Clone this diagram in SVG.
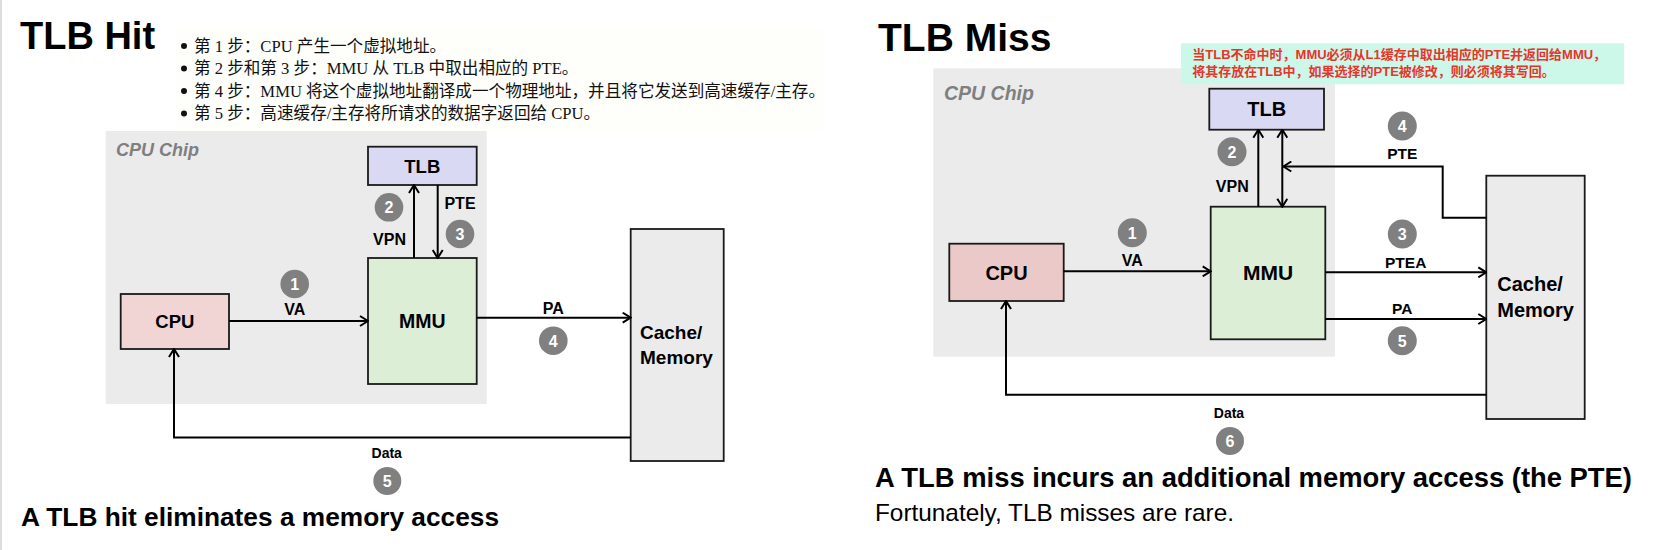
<svg xmlns="http://www.w3.org/2000/svg" width="1664" height="550" viewBox="0 0 1664 550">
<defs>
<marker id="arr" viewBox="0 0 10 12" refX="9" refY="6" markerWidth="10" markerHeight="12" markerUnits="userSpaceOnUse" orient="auto-start-reverse">
<path d="M1,1 L9,6 L1,11" fill="none" stroke="#000" stroke-width="2"/>
</marker>
</defs>
<style>
.chip{fill:#ebebeb}
.box{stroke:#1a1a1a;stroke-width:1.8}
.tlb{fill:#d9d9f3}
.mmu{fill:#dcefd6}
.cpuL{fill:#f1d5d4}
.cpuR{fill:#ecc9c9}
.mem{fill:#ebebeb}
.lbl{font-family:"Liberation Sans",Arial,sans-serif;font-weight:bold;fill:#000;text-anchor:middle}
.lbs{font-family:"Liberation Sans",Arial,sans-serif;font-weight:bold;fill:#000}
.edge{fill:none;stroke:#000;stroke-width:2}
.num circle{fill:#808080}
.num text{font-family:"Liberation Sans",Arial,sans-serif;font-weight:bold;font-size:16px;fill:#fff;text-anchor:middle}
.chipt{font-family:"Liberation Sans",Arial,sans-serif;font-weight:bold;font-style:italic;fill:#7f7f7f}
.title{font-family:"Liberation Sans",Arial,sans-serif;font-weight:bold;fill:#000}
.body{font-family:"Liberation Sans",Arial,sans-serif;fill:#000}
.cn{font-family:"Liberation Serif","Noto Sans CJK SC",serif;font-size:16.6px;fill:#111}
.note{font-family:"Liberation Sans","Noto Sans CJK SC",sans-serif;font-weight:bold;font-size:13px;fill:#e8352b}
</style>
<rect x="0" y="0" width="1664" height="550" fill="#fff"/>
<rect x="0" y="0" width="2" height="550" fill="#dcdcdc"/>

<!-- LEFT PANEL: TLB Hit -->
<g id="left-title">
<text class="title" x="20" y="48.5" font-size="38">TLB Hit</text>
</g>
<g id="left-steps">
<rect x="176" y="28" width="648" height="103" fill="#fefefa"/>
<circle cx="184" cy="46" r="3" fill="#111"/>
<circle cx="184" cy="68.5" r="3" fill="#111"/>
<circle cx="184" cy="91" r="3" fill="#111"/>
<circle cx="184" cy="113.5" r="3" fill="#111"/>
<text class="cn" x="194" y="51.5">第 1 步：CPU 产生一个虚拟地址。</text>
<text class="cn" x="194" y="74">第 2 步和第 3 步：MMU 从 TLB 中取出相应的 PTE。</text>
<text class="cn" x="194" y="96.5">第 4 步：MMU 将这个虚拟地址翻译成一个物理地址，并且将它发送到高速缓存/主存。</text>
<text class="cn" x="194" y="119">第 5 步：高速缓存/主存将所请求的数据字返回给 CPU。</text>
</g>
<g id="left-chip">
<rect class="chip" x="105.7" y="131" width="381" height="273"/>
<text class="chipt" x="116" y="156" font-size="18">CPU Chip</text>
</g>
<g id="left-tlb">
<rect class="box tlb" x="368" y="146.7" width="108.7" height="38.3"/>
<text class="lbl" x="422.3" y="172.7" font-size="18.5">TLB</text>
</g>
<g id="left-mmu">
<rect class="box mmu" x="368" y="258" width="108.7" height="126"/>
<text class="lbl" x="422.3" y="327.5" font-size="19.5">MMU</text>
</g>
<g id="left-cpu">
<rect class="box cpuL" x="120.7" y="294" width="108.3" height="55"/>
<text class="lbl" x="174.8" y="327.5" font-size="18.5">CPU</text>
</g>
<g id="left-mem">
<rect class="box mem" x="630.7" y="229" width="93" height="232"/>
<text class="lbs" x="640" y="339.3" font-size="19">Cache/</text>
<text class="lbs" x="640" y="364.3" font-size="19">Memory</text>
</g>
<g id="left-connectors">
<line class="edge" x1="229" y1="321" x2="368" y2="321" marker-end="url(#arr)"/>
<line class="edge" x1="414" y1="258" x2="414" y2="185" marker-end="url(#arr)"/>
<line class="edge" x1="437.7" y1="185" x2="437.7" y2="258" marker-end="url(#arr)"/>
<line class="edge" x1="476.7" y1="317.7" x2="630.7" y2="317.7" marker-end="url(#arr)"/>
<polyline class="edge" points="630.7,437.5 174,437.5 174,349" marker-end="url(#arr)"/>
<text class="lbl" x="294.7" y="315" font-size="16">VA</text>
<text class="lbl" x="389.5" y="245" font-size="16">VPN</text>
<text class="lbl" x="460" y="209.3" font-size="16">PTE</text>
<text class="lbl" x="553.3" y="314.3" font-size="16">PA</text>
<text class="lbl" x="386.7" y="458.3" font-size="14">Data</text>
<g class="num"><circle cx="294.7" cy="284" r="14.3"/><text x="294.7" y="289.8">1</text></g>
<g class="num"><circle cx="389" cy="207.3" r="14.3"/><text x="389" y="213.1">2</text></g>
<g class="num"><circle cx="460" cy="234" r="14.3"/><text x="460" y="239.8">3</text></g>
<g class="num"><circle cx="553.3" cy="340.7" r="14.3"/><text x="553.3" y="346.5">4</text></g>
<g class="num"><circle cx="387.3" cy="481" r="14"/><text x="387.3" y="486.8">5</text></g>
</g>
<g id="left-caption">
<text class="title" x="21" y="526" font-size="26.5" textLength="478" lengthAdjust="spacingAndGlyphs">A TLB hit eliminates a memory access</text>
</g>

<!-- RIGHT PANEL: TLB Miss -->
<g id="right-title">
<text class="title" x="878" y="51" font-size="39">TLB Miss</text>
</g>
<g id="right-chip">
<rect class="chip" x="933.3" y="68.3" width="401.7" height="288.4"/>
<text class="chipt" x="944" y="100" font-size="19.5">CPU Chip</text>
</g>
<g id="right-note">
<rect x="1181" y="43.3" width="443" height="41" fill="#ccf8ea"/>
<text class="note" x="1192.3" y="59">当TLB不命中时，MMU必须从L1缓存中取出相应的PTE并返回给MMU，</text>
<text class="note" x="1192.3" y="75.5">将其存放在TLB中，如果选择的PTE被修改，则必须将其写回。</text>
</g>
<g id="right-tlb">
<rect class="box tlb" x="1209.3" y="88.7" width="114.7" height="41"/>
<text class="lbl" x="1266.7" y="116" font-size="20">TLB</text>
</g>
<g id="right-mmu">
<rect class="box mmu" x="1210.7" y="206.7" width="114.6" height="132.6"/>
<text class="lbl" x="1268" y="280" font-size="21">MMU</text>
</g>
<g id="right-cpu">
<rect class="box cpuR" x="949.3" y="243.7" width="114.4" height="57.3"/>
<text class="lbl" x="1006.5" y="280" font-size="20">CPU</text>
</g>
<g id="right-mem">
<rect class="box mem" x="1486.3" y="175.7" width="98.4" height="243.3"/>
<text class="lbs" x="1497.3" y="290.7" font-size="20">Cache/</text>
<text class="lbs" x="1497.3" y="317.3" font-size="20">Memory</text>
</g>
<g id="right-connectors">
<line class="edge" x1="1063.7" y1="271.3" x2="1210.7" y2="271.3" marker-end="url(#arr)"/>
<line class="edge" x1="1258.3" y1="206.7" x2="1258.3" y2="129.7" marker-end="url(#arr)"/>
<line class="edge" x1="1282.3" y1="129.7" x2="1282.3" y2="206.7" marker-start="url(#arr)" marker-end="url(#arr)"/>
<polyline class="edge" points="1486.3,217.7 1442.7,217.7 1442.7,166.5 1283.3,166.5" marker-end="url(#arr)"/>
<line class="edge" x1="1325.3" y1="272.3" x2="1486.3" y2="272.3" marker-end="url(#arr)"/>
<line class="edge" x1="1325.3" y1="319" x2="1486.3" y2="319" marker-end="url(#arr)"/>
<polyline class="edge" points="1486.3,394.7 1006,394.7 1006,301" marker-end="url(#arr)"/>
<text class="lbl" x="1132.3" y="266" font-size="16">VA</text>
<text class="lbl" x="1232.3" y="192" font-size="16">VPN</text>
<text class="lbl" x="1402.3" y="159" font-size="15.5">PTE</text>
<text class="lbl" x="1405.7" y="267.7" font-size="15.5">PTEA</text>
<text class="lbl" x="1402.3" y="314.3" font-size="15.5">PA</text>
<text class="lbl" x="1229" y="418" font-size="14">Data</text>
<g class="num"><circle cx="1132.3" cy="232.7" r="14.5"/><text x="1132.3" y="238.5">1</text></g>
<g class="num"><circle cx="1232" cy="151.7" r="14.5"/><text x="1232" y="157.5">2</text></g>
<g class="num"><circle cx="1402.3" cy="234" r="14.5"/><text x="1402.3" y="239.8">3</text></g>
<g class="num"><circle cx="1402.3" cy="126" r="14.5"/><text x="1402.3" y="131.8">4</text></g>
<g class="num"><circle cx="1402.3" cy="340.7" r="14.5"/><text x="1402.3" y="346.5">5</text></g>
<g class="num"><circle cx="1230" cy="441" r="14"/><text x="1230" y="446.8">6</text></g>
</g>
<g id="right-caption">
<text class="title" x="875" y="486.5" font-size="27" textLength="757" lengthAdjust="spacingAndGlyphs">A TLB miss incurs an additional memory access (the PTE)</text>
<text class="body" x="875" y="521" font-size="24" textLength="359" lengthAdjust="spacingAndGlyphs">Fortunately, TLB misses are rare.</text>
</g>
</svg>
